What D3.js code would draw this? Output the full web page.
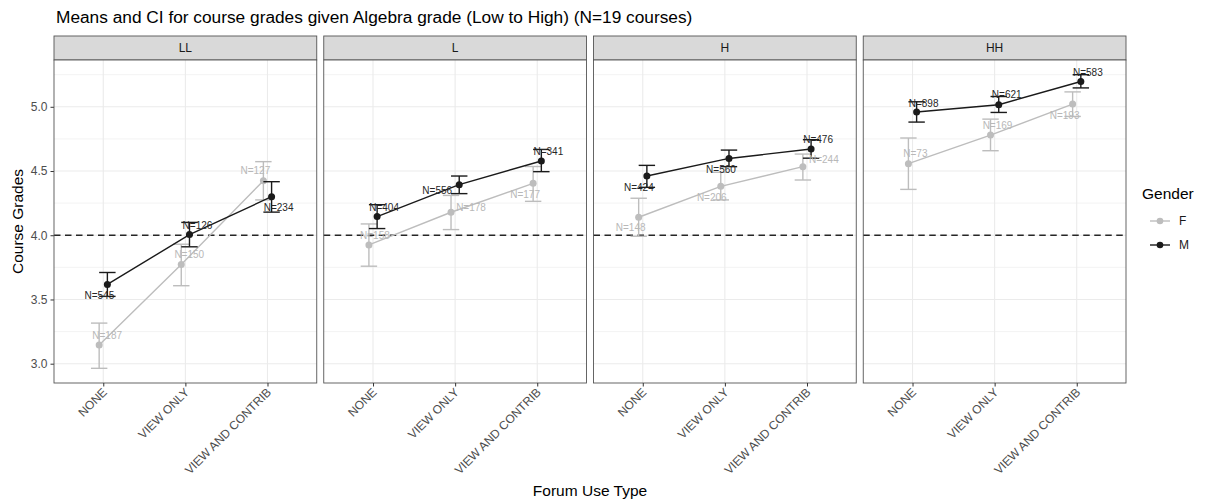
<!DOCTYPE html>
<html>
<head>
<meta charset="utf-8">
<script src="https://cdn.jsdelivr.net/npm/d3@7"></script>
<style>
  body { margin: 0; background: #fff; }
  svg { font-family: "Liberation Sans", Arial, sans-serif; }
</style>
</head>
<body>
<div id="chart"></div>
<script>
// facets, categories and legend entries
const panels = ["LL", "L", "H", "HH"];
const forumTypes = ["NONE", "VIEW ONLY", "VIEW AND CONTRIB"];
const genders = ["F", "M"];
const yTicks = [3.0, 3.5, 4.0, 4.5, 5.0];
const refLine = 4.0;

// means, CI bounds and counts, one row per panel (LL, L, H, HH)
const meanF = [[3.145, 3.772, 4.425], [3.925, 4.179, 4.404], [4.14, 4.381, 4.534], [4.557, 4.78, 5.021]];
const loF   = [[2.964, 3.607, 4.275], [3.759, 4.044, 4.264], [3.992, 4.275, 4.43], [4.357, 4.658, 4.925]];
const hiF   = [[3.316, 3.93, 4.573], [4.088, 4.31, 4.535], [4.288, 4.49, 4.632], [4.757, 4.904, 5.116]];
const nF    = [[187, 150, 127], [158, 178, 177], [148, 206, 244], [73, 169, 193]];

const meanM = [[3.617, 4.005, 4.30], [4.145, 4.394, 4.578], [4.461, 4.598, 4.671], [4.959, 5.016, 5.197]];
const loM   = [[3.524, 3.91, 4.18], [4.052, 4.324, 4.495], [4.373, 4.534, 4.60], [4.881, 4.956, 5.147]];
const hiM   = [[3.71, 4.10, 4.417], [4.238, 4.461, 4.668], [4.544, 4.663, 4.744], [5.039, 5.08, 5.25]];
const nM    = [[545, 126, 234], [404, 556, 341], [424, 560, 476], [898, 621, 583]];

// where each N label sits relative to its point (repelled labels), px
const nudgeF = [[[8, -10], [8, -10], [-8, -10]], [[6, -9], [20, -5], [-8, 11]], [[-8, 10], [-9, 11], [21, -7]], [[7, -10], [7, -10], [-8, 11]]];
const nudgeM = [[[-8, 11], [8, -9], [7, 11]], [[7, -9], [-22, 6], [7, -10]], [[-8, 11], [-8, 11], [7, -10]], [[7, -9], [8, -10], [7, -9]]];

class FacetChart {
  constructor(_config) {
    this.config = {
      parentElement: _config.parentElement,
      containerWidth: 1208,
      containerHeight: 501,
      margin: { top: 60, left: 54, bottom: 118, right: 82 },
      stripHeight: 24,
      panelGap: 7,
    };
    this.colors = { F: "#bdbdbd", M: "#1a1a1a" };
    this.textColors = { F: "#b8b8b8", M: "#262626" };
    this.initVis();
  }

  initVis() {
    let vis = this;
    const c = vis.config;

    vis.height = c.containerHeight - c.margin.top - c.margin.bottom;
    vis.panelWidth = (c.containerWidth - c.margin.left - c.margin.right - c.panelGap * (panels.length - 1)) / panels.length;

    vis.svg = d3.select(c.parentElement)
      .append("svg")
      .attr("width", c.containerWidth)
      .attr("height", c.containerHeight);

    // rows for every point
    vis.data = [];
    panels.forEach((p, pi) => {
      forumTypes.forEach((t, ti) => {
        vis.data.push({ panel: p, type: t, gender: "F", mean: meanF[pi][ti], lo: loF[pi][ti], hi: hiF[pi][ti], n: nF[pi][ti], nudge: nudgeF[pi][ti] });
        vis.data.push({ panel: p, type: t, gender: "M", mean: meanM[pi][ti], lo: loM[pi][ti], hi: hiM[pi][ti], n: nM[pi][ti], nudge: nudgeM[pi][ti] });
      });
    });

    const lo = d3.min(vis.data, (d) => d.lo);
    const hi = d3.max(vis.data, (d) => d.hi);
    const pad = (hi - lo) * 0.05;
    vis.yScale = d3.scaleLinear().domain([lo - pad, hi + pad]).range([vis.height, 0]);

    vis.panelScale = d3.scaleBand().domain(panels)
      .range([c.margin.left, c.containerWidth - c.margin.right])
      .paddingInner(c.panelGap / (vis.panelWidth + c.panelGap));

    vis.xScale = d3.scalePoint().domain(forumTypes).range([0, vis.panelScale.bandwidth()]).padding(0.6);
    vis.dodge = vis.xScale.step() * 0.05;

    // title
    vis.svg.append("text")
      .attr("x", c.margin.left + 2)
      .attr("y", 23)
      .text("Means and CI for course grades given Algebra grade (Low to High) (N=19 courses)")
      .style("font-size", "17.3px")
      .style("fill", "#000");

    // axis titles
    vis.svg.append("text")
      .attr("transform", `translate(23,${c.margin.top + vis.height / 2}) rotate(-90)`)
      .attr("text-anchor", "middle")
      .text("Course Grades")
      .style("font-size", "15.5px");

    vis.svg.append("text")
      .attr("x", (c.margin.left + c.containerWidth - c.margin.right) / 2)
      .attr("y", 496)
      .attr("text-anchor", "middle")
      .text("Forum Use Type")
      .style("font-size", "15.5px");

    // y axis
    const yAxis = d3.axisLeft(vis.yScale).tickValues(yTicks).tickFormat(d3.format(".1f")).tickSize(3.5).tickPadding(3);
    const yAxisG = vis.svg.append("g")
      .attr("transform", `translate(${c.margin.left},${c.margin.top})`)
      .call(yAxis);
    yAxisG.select(".domain").remove();
    yAxisG.selectAll(".tick line").attr("stroke", "#333");
    yAxisG.selectAll(".tick text").style("font-size", "12px").style("fill", "#4d4d4d").style("font-family", "Liberation Sans, Arial, sans-serif");

    vis.renderLegend();
  }

  renderVis() {
    let vis = this;
    const c = vis.config;
    const w = vis.panelScale.bandwidth();
    const capHalf = vis.xScale.step() * 0.1;

    const minorTicks = d3.range(0, yTicks.length - 1).map((i) => (yTicks[i] + yTicks[i + 1]) / 2)
      .concat([yTicks[0] - 0.25, yTicks[yTicks.length - 1] + 0.25])
      .filter((v) => v >= vis.yScale.domain()[0] && v <= vis.yScale.domain()[1]);

    panels.forEach((p) => {
      const g = vis.svg.append("g").attr("transform", `translate(${vis.panelScale(p)},${c.margin.top})`);
      const rows = vis.data.filter((d) => d.panel === p);

      // strip
      g.append("rect")
        .attr("x", 0).attr("y", -c.stripHeight)
        .attr("width", w).attr("height", c.stripHeight)
        .attr("fill", "#d9d9d9").attr("stroke", "#555").attr("stroke-width", 0.9);
      g.append("text")
        .attr("x", w / 2).attr("y", -c.stripHeight / 2)
        .attr("dy", "0.35em").attr("text-anchor", "middle")
        .text(p).style("font-size", "12px").style("fill", "#1a1a1a");

      g.append("rect").attr("width", w).attr("height", vis.height).attr("fill", "#fff");

      // grid
      g.selectAll(".minor").data(minorTicks).join("line")
        .attr("x1", 0).attr("x2", w)
        .attr("y1", (d) => vis.yScale(d)).attr("y2", (d) => vis.yScale(d))
        .attr("stroke", "#ebebeb").attr("stroke-width", 0.6);
      g.selectAll(".major").data(yTicks).join("line")
        .attr("x1", 0).attr("x2", w)
        .attr("y1", (d) => vis.yScale(d)).attr("y2", (d) => vis.yScale(d))
        .attr("stroke", "#ebebeb").attr("stroke-width", 1.1);
      g.selectAll(".vmajor").data(forumTypes).join("line")
        .attr("x1", (d) => vis.xScale(d)).attr("x2", (d) => vis.xScale(d))
        .attr("y1", 0).attr("y2", vis.height)
        .attr("stroke", "#ebebeb").attr("stroke-width", 1.1);

      // reference line
      g.append("line")
        .attr("x1", 0).attr("x2", w)
        .attr("y1", vis.yScale(refLine)).attr("y2", vis.yScale(refLine))
        .attr("stroke", "#262626").attr("stroke-width", 1.4).attr("stroke-dasharray", "6.5,4.5");

      const px = (d) => vis.xScale(d.type) + (d.gender === "F" ? -vis.dodge : vis.dodge);

      genders.forEach((gd) => {
        const sub = rows.filter((d) => d.gender === gd);
        const col = vis.colors[gd];

        // error bars
        const eb = g.selectAll(`.eb-${gd}`).data(sub).join("g").attr("class", `eb-${gd}`);
        eb.append("line")
          .attr("x1", px).attr("x2", px)
          .attr("y1", (d) => vis.yScale(d.lo)).attr("y2", (d) => vis.yScale(d.hi))
          .attr("stroke", col).attr("stroke-width", 1.4);
        ["lo", "hi"].forEach((k) => {
          eb.append("line")
            .attr("x1", (d) => px(d) - capHalf).attr("x2", (d) => px(d) + capHalf)
            .attr("y1", (d) => vis.yScale(d[k])).attr("y2", (d) => vis.yScale(d[k]))
            .attr("stroke", col).attr("stroke-width", 1.4);
        });

        // line
        g.append("path").datum(sub)
          .attr("d", d3.line().x(px).y((d) => vis.yScale(d.mean)))
          .attr("fill", "none").attr("stroke", col).attr("stroke-width", 1.4);

        // points
        g.selectAll(`.pt-${gd}`).data(sub).join("circle").attr("class", `pt-${gd}`)
          .attr("cx", px).attr("cy", (d) => vis.yScale(d.mean))
          .attr("r", 3.5).attr("fill", col);
      });

      // N labels
      genders.forEach((gd) => {
        g.selectAll(`.lab-${gd}`).data(rows.filter((d) => d.gender === gd)).join("text").attr("class", `lab-${gd}`)
          .attr("x", (d) => px(d) + d.nudge[0])
          .attr("y", (d) => vis.yScale(d.mean) + d.nudge[1])
          .attr("dy", "0.35em").attr("text-anchor", "middle")
          .text((d) => `N=${d.n}`)
          .style("font-size", "10px").style("fill", vis.textColors[gd]);
      });

      // panel border
      g.append("rect").attr("width", w).attr("height", vis.height)
        .attr("fill", "none").attr("stroke", "#555").attr("stroke-width", 0.9);

      // x axis
      const xAxis = d3.axisBottom(vis.xScale).tickSize(3.5).tickPadding(2);
      const xg = g.append("g").attr("transform", `translate(0,${vis.height})`).call(xAxis);
      xg.select(".domain").remove();
      xg.selectAll(".tick line").attr("stroke", "#333");
      xg.selectAll(".tick text")
        .attr("transform", "translate(1,7) rotate(-45)")
        .attr("text-anchor", "end")
        .attr("dy", "0.35em")
        .attr("y", 0).attr("x", 0)
        .style("font-size", "12px").style("fill", "#4d4d4d")
        .style("font-family", "Liberation Sans, Arial, sans-serif");
    });
  }

  renderLegend() {
    let vis = this;
    const lg = vis.svg.append("g").attr("transform", "translate(1142,0)");
    lg.append("text").attr("x", 0).attr("y", 199).text("Gender").style("font-size", "15.5px");
    genders.forEach((gd, i) => {
      const y = 221 + i * 24;
      lg.append("line").attr("x1", 8).attr("x2", 28).attr("y1", y).attr("y2", y)
        .attr("stroke", vis.colors[gd]).attr("stroke-width", 1.4);
      lg.append("circle").attr("cx", 18).attr("cy", y).attr("r", 3.3).attr("fill", vis.colors[gd]);
      lg.append("text").attr("x", 37).attr("y", y).attr("dy", "0.35em").text(gd).style("font-size", "12px").style("fill", "#1a1a1a");
    });
  }
}

const chart = new FacetChart({ parentElement: "#chart" });
chart.renderVis();
</script>
</body>
</html>
